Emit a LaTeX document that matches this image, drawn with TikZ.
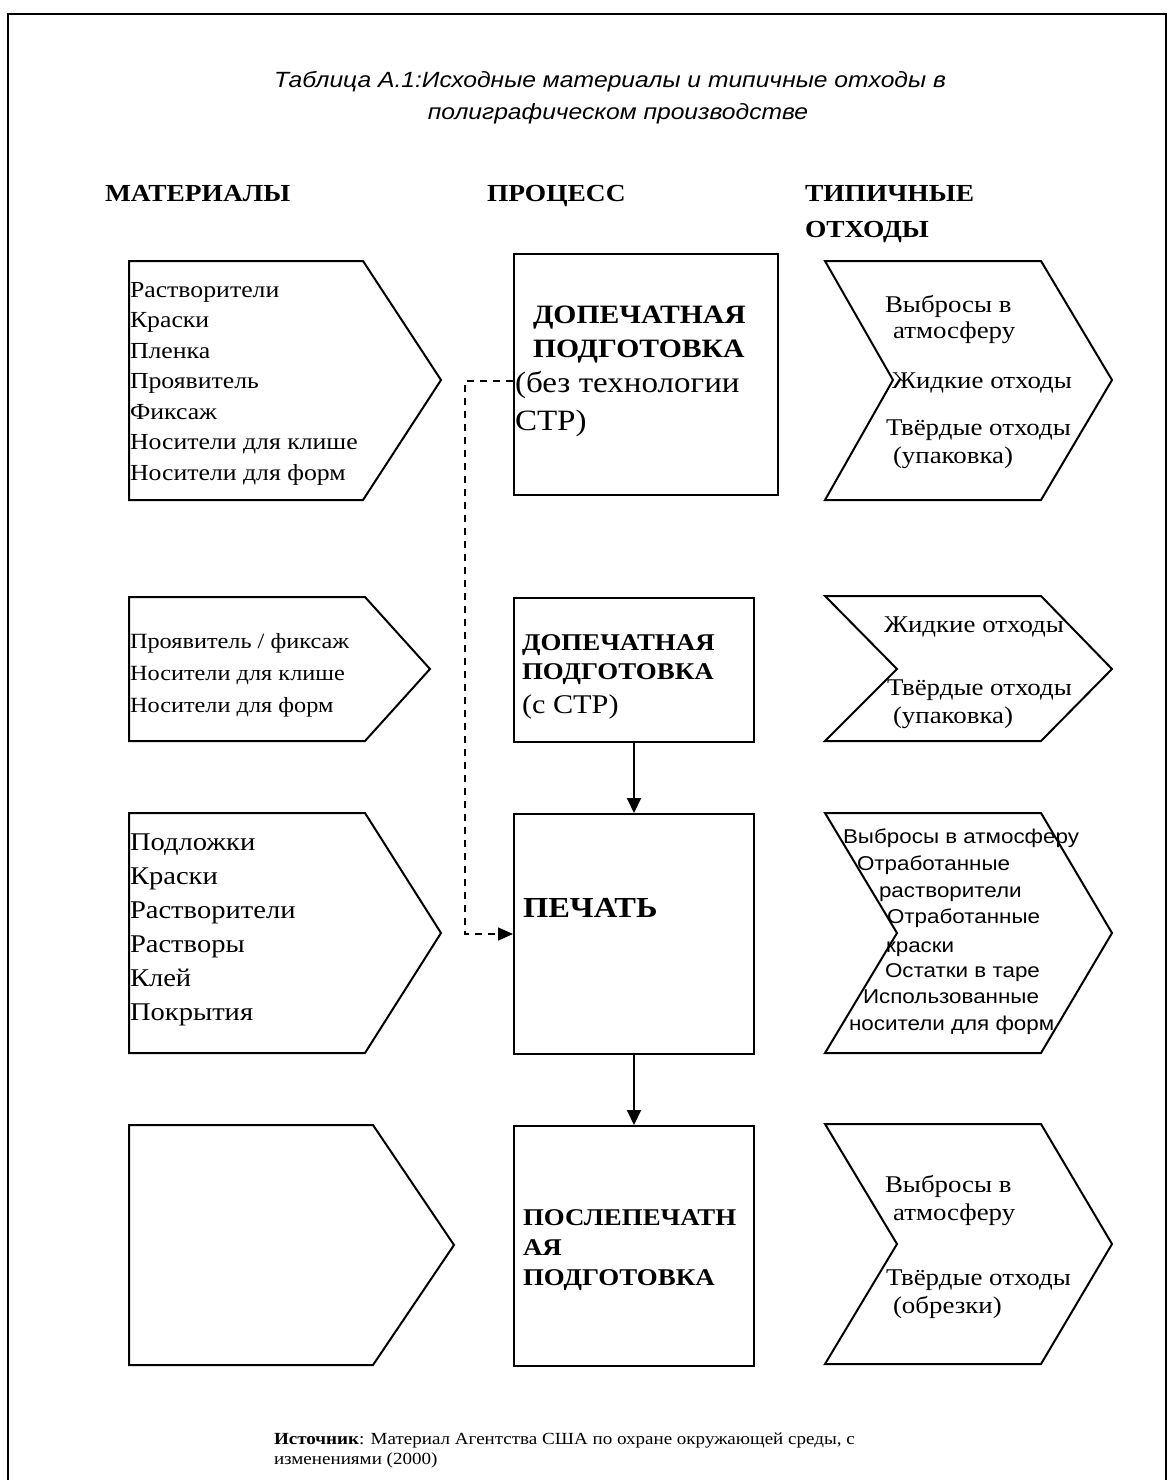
\documentclass[tikz,border=0pt]{standalone}
\usepackage{fontspec}
\setmainfont{Liberation Serif}[FakeStretch=1.12]
\newfontfamily\arialf{Liberation Sans}[FakeStretch=1.12]
\usetikzlibrary{arrows.meta}
\newcommand\fs[1]{\fontsize{#1}{#1}\selectfont}
\begin{document}
\begin{tikzpicture}[x=1pt,y=-1pt,
  shp/.style={line width=2pt, line join=miter},
  pbox/.style={draw, line width=2pt, anchor=north west, inner sep=0pt},
  txt/.style={anchor=base west, inner sep=0pt, outer sep=0pt},
  mtxt/.style={txt, font=\fs{23}},
  wtxt/.style={txt, font=\fs{24}},
  atxt/.style={txt, font=\arialf\fs{20}},
  hdr/.style={txt, font=\bfseries\fs{24.5}},
  flow/.style={line width=2pt, -{Triangle[length=15pt,width=14pt]}},
  dflow/.style={line width=1.6pt, dash pattern=on 7pt off 6pt, -{Triangle[length=15pt,width=13pt]}}
]
\useasboundingbox (0,0) rectangle (1172,1480);
\fill[white] (0,0) rectangle (1172,1480);
% frame
\draw[line width=1.5pt] (8,1490) -- (8,14) -- (1166,14) -- (1166,1490);

% title
\node[font=\arialf\itshape\fs{22}, anchor=base, inner sep=0pt] (t1) at (610,87) {Таблица А.1:Исходные материалы и типичные отходы в};
\node[font=\arialf\itshape\fs{22}, anchor=base, inner sep=0pt] (t2) at (618,119) {полиграфическом производстве};

% headers
\node[hdr] (h1) at (105,201) {МАТЕРИАЛЫ};
\node[hdr] (h2) at (487,201) {ПРОЦЕСС};
\node[hdr] (h3) at (805,201) {ТИПИЧНЫЕ};
\node[hdr] (h4) at (805,237) {ОТХОДЫ};

% materials shapes
\draw[shp] (129,261) -- (363,261) -- (441,380) -- (363,500) -- (129,500) -- cycle;
\draw[shp] (129,597) -- (365,597) -- (430,669) -- (365,741) -- (129,741) -- cycle;
\draw[shp] (129,813) -- (365,813) -- (441,933) -- (365,1053) -- (129,1053) -- cycle;
\draw[shp] (129,1125) -- (373,1125) -- (454,1245) -- (373,1365) -- (129,1365) -- cycle;

\foreach \t [count=\i] in {Растворители,Краски,Пленка,Проявитель,Фиксаж,Носители для клише,Носители для форм}
  \node[mtxt] (ma\i) at (130,{297+30.5*(\i-1)}) {\t};
\foreach \t [count=\i] in {Проявитель / фиксаж,Носители для клише,Носители для форм}
  \node[mtxt, font=\fs{21.7}] (mb\i) at (130,{648+32*(\i-1)}) {\t};
\foreach \t [count=\i] in {Подложки,Краски,Растворители,Растворы,Клей,Покрытия}
  \node[mtxt, font=\fs{25.5}] (mc\i) at (130,{850+34*(\i-1)}) {\t};

% process boxes
\node[pbox, minimum width=264pt, minimum height=241pt] (p1) at (513,253) {};
\node[pbox, minimum width=240pt, minimum height=144pt] (p2) at (513,597) {};
\node[pbox, minimum width=240pt, minimum height=240pt] (p3) at (513,813) {};
\node[pbox, minimum width=240pt, minimum height=240pt] (p4) at (513,1125) {};

\node[txt, font=\bfseries\fs{26.5}] (p1a) at (533,323) {ДОПЕЧАТНАЯ};
\node[txt, font=\bfseries\fs{26.5}] (p1b) at (533,357) {ПОДГОТОВКА};
\node[txt, font=\fs{29.5}] (p1c) at (515,392) {(без технологии};
\node[txt, font=\fs{29.5}] (p1d) at (515,430) {СТР)};

\node[txt, font=\bfseries\fs{24}] (p2a) at (522,650) {ДОПЕЧАТНАЯ};
\node[txt, font=\bfseries\fs{24}] (p2b) at (522,679) {ПОДГОТОВКА};
\node[txt, font=\fs{27}] (p2c) at (522,713) {(с СТР)};

\node[txt, font=\bfseries\fs{29}] (p3a) at (523,917) {ПЕЧАТЬ};

\node[txt, font=\bfseries\fs{24}] (p4a) at (523,1225) {ПОСЛЕПЕЧАТН};
\node[txt, font=\bfseries\fs{24}] (p4b) at (523,1255) {АЯ};
\node[txt, font=\bfseries\fs{24}] (p4c) at (523,1285) {ПОДГОТОВКА};

% connectors
\draw[flow] (p2.south) -- (p3.north);
\draw[flow] (p3.south) -- (p4.north);
\coordinate (d1) at (513,381);
\coordinate (d2) at (465,381);
\draw[dflow] (d1) -- (d2) |- (p3.west);

% waste chevrons
\draw[shp] (825,261) -- (1041,261) -- (1112,380) -- (1041,500) -- (825,500) -- (893,380) -- cycle;
\draw[shp] (825,596) -- (1041,596) -- (1112,669) -- (1041,741) -- (825,741) -- (897,669) -- cycle;
\draw[shp] (825,813) -- (1041,813) -- (1112,933) -- (1041,1053) -- (825,1053) -- (897,933) -- cycle;
\draw[shp] (825,1124) -- (1041,1124) -- (1112,1244) -- (1041,1364) -- (825,1364) -- (897,1244) -- cycle;

\foreach \x/\y/\t [count=\i] in {885/312/Выбросы в,893/338/атмосферу,892/388/Жидкие отходы,886/435/Твёрдые отходы,893/463/(упаковка)}
  \node[wtxt] (wa\i) at (\x,\y) {\t};
\foreach \x/\y/\t [count=\i] in {884/632/Жидкие отходы,887/695/Твёрдые отходы,893/723/(упаковка)}
  \node[wtxt] (wb\i) at (\x,\y) {\t};
\foreach \x/\y/\t [count=\i] in {843/843/Выбросы в атмосферу,857/870/Отработанные,879/897/растворители,887/923/Отработанные,886/952/краски,885/977/Остатки в таре,863/1003/Использованные,849/1030/носители для форм}
  \node[atxt] (wc\i) at (\x,\y) {\t};
\foreach \x/\y/\t [count=\i] in {885/1192/Выбросы в,893/1220/атмосферу,886/1285/Твёрдые отходы,893/1313/(обрезки)}
  \node[wtxt] (wd\i) at (\x,\y) {\t};

% footer
\node[txt, font=\fs{17}] (f1) at (274,1444) {\textbf{Источник}: Материал Агентства США по охране окружающей среды, с};
\node[txt, font=\fs{17}] (f2) at (274,1464) {изменениями (2000)};
\end{tikzpicture}
\end{document}
